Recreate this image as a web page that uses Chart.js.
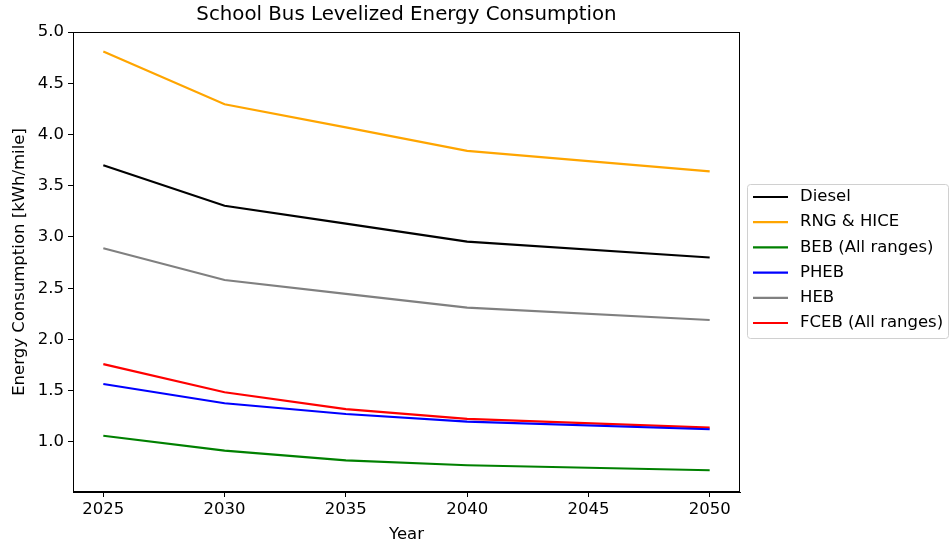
<!DOCTYPE html>
<html>
<head>
<meta charset="utf-8">
<script src="https://cdn.jsdelivr.net/npm/chart.js@4.4.0/dist/chart.umd.min.js"></script>
<style>
  html, body { margin: 0; padding: 0; background: #fff; }
  #wrap { position: relative; width: 950px; height: 548px; }
</style>
</head>
<body>
<div id="wrap"><canvas id="c" width="950" height="548"></canvas></div>
<script>
// ── Data ────────────────────────────────────────────────────────────────────
const years   = [2025, 2030, 2035, 2040, 2050];
const diesel  = [3.70, 3.305, 3.13, 2.955, 2.80];
const rngHice = [4.81, 4.295, 4.07, 3.84, 3.64];
const beb     = [1.061, 0.915, 0.82, 0.773, 0.724];
const pheb    = [1.566, 1.378, 1.273, 1.198, 1.124];
const heb     = [2.89, 2.58, 2.445, 2.31, 2.19];
const fceb    = [1.76, 1.485, 1.32, 1.225, 1.14];
const yTicks  = [1.0, 1.5, 2.0, 2.5, 3.0, 3.5, 4.0, 4.5, 5.0];

const FONT = 'DejaVu Sans';
const FS = 16.5;

function series(label, values, color) {
  return {
    label,
    data: years.map((x, i) => ({ x, y: values[i] })),
    borderColor: color,
    backgroundColor: color,
    borderWidth: 2.2,
    pointRadius: 0,
    tension: 0,
  };
}

// frame (top/right spines), title and legend box
const decor = {
  id: 'decor',
  afterDraw(chart) {
    const { ctx, chartArea: a } = chart;
    ctx.save();
    ctx.strokeStyle = '#000';
    ctx.lineWidth = 1;
    ctx.strokeRect(a.left + 0.5, a.top + 0.5, a.right - a.left - 1, a.bottom - a.top - 1);

    ctx.fillStyle = '#000';
    ctx.font = `19.8px "${FONT}"`;
    ctx.textAlign = 'center';
    ctx.textBaseline = 'middle';
    ctx.fillText('School Bus Levelized Energy Consumption', (a.left + a.right) / 2, 15);

    // legend
    const bx = 747, by = 184, bw = 201, bh = 154;
    ctx.fillStyle = '#fff';
    ctx.strokeStyle = '#d0d0d0';
    ctx.beginPath();
    ctx.roundRect(bx + 0.5, by + 0.5, bw, bh, 3);
    ctx.fill();
    ctx.stroke();
    ctx.font = `${FS}px "${FONT}"`;
    ctx.textAlign = 'left';
    chart.data.datasets.forEach((ds, i) => {
      const y = by + 13 + i * 25.2;
      ctx.strokeStyle = ds.borderColor;
      ctx.lineWidth = 2.2;
      ctx.beginPath();
      ctx.moveTo(753, y);
      ctx.lineTo(788, y);
      ctx.stroke();
      ctx.fillStyle = '#000';
      ctx.fillText(ds.label, 800, y);
    });
    ctx.restore();
  }
};

new Chart(document.getElementById('c'), {
  type: 'line',
  data: {
    datasets: [
      series('Diesel', diesel, '#000000'),
      series('RNG & HICE', rngHice, '#ffa500'),
      series('BEB (All ranges)', beb, '#008000'),
      series('PHEB', pheb, '#0000ff'),
      series('HEB', heb, '#808080'),
      series('FCEB (All ranges)', fceb, '#ff0000'),
    ]
  },
  options: {
    responsive: false,
    animation: false,
    layout: { padding: { left: 0, right: 210, top: 32, bottom: 0 } },
    plugins: { legend: { display: false }, tooltip: { enabled: false } },
    scales: {
      x: {
        type: 'linear',
        min: 2023.75,
        max: 2051.25,
        afterFit: s => { s.height = 56; },
        border: { display: true, color: '#000', width: 1 },
        grid: { drawOnChartArea: false, drawTicks: true, tickLength: 5, color: '#000' },
        ticks: {
          stepSize: 5,
          includeBounds: false,
          color: '#000',
          padding: 3,
          font: { family: FONT, size: FS },
          callback: v => String(v)
        },
        title: {
          display: true, text: 'Year', color: '#000',
          font: { family: FONT, size: FS },
          padding: { top: 2, bottom: 3 }
        }
      },
      y: {
        min: 0.512,
        max: 5.0,
        afterFit: s => { s.width = 73; },
        afterBuildTicks: s => { s.ticks = yTicks.map(v => ({ value: v })); },
        border: { display: true, color: '#000', width: 1 },
        grid: { drawOnChartArea: false, drawTicks: true, tickLength: 5, color: '#000' },
        ticks: {
          color: '#000',
          padding: 4,
          font: { family: FONT, size: FS },
          callback: v => v.toFixed(1)
        },
        title: {
          display: true, text: 'Energy Consumption [kWh/mile]', color: '#000',
          font: { family: FONT, size: FS },
          padding: { top: 10, bottom: 0 }
        }
      }
    }
  },
  plugins: [decor]
});
</script>
</body>
</html>
